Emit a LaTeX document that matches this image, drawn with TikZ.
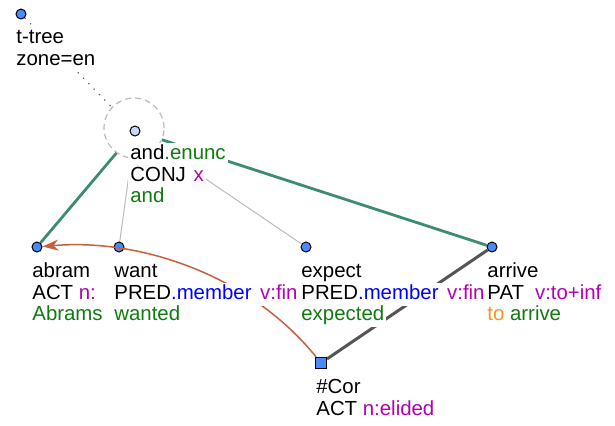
\documentclass[tikz,border=0pt]{standalone}
\usepackage{fontspec}
\setmainfont{Liberation Sans}
\usetikzlibrary{arrows.meta,backgrounds}

\definecolor{dotblue}{HTML}{4A8AFA}
\definecolor{andblue}{HTML}{C8D8FA}
\definecolor{edgegreen}{HTML}{3C8C6E}
\definecolor{edgegrey}{HTML}{BBBBBB}
\definecolor{edgedark}{HTML}{555555}
\definecolor{corarrow}{HTML}{C8603C}
\definecolor{txtgreen}{HTML}{107C10}
\definecolor{txtmag}{HTML}{B400B4}
\definecolor{txtblue}{HTML}{0000FF}
\definecolor{txtorange}{HTML}{FF9020}

% one text line on a white patch
\newsavebox\klbox
\newcommand\kl[1]{\sbox\klbox{#1}%
  \rlap{\kern-1pt\smash{\color{white}\rule[-3.3pt]{\dimexpr\wd\klbox+2pt\relax}{11.3pt}}}%
  \rule[-3.3pt]{0pt}{10.8pt}\usebox\klbox}

\tikzset{
  tnode/.style={circle,draw=black,line width=0.5pt,fill=dotblue,inner sep=0pt,minimum size=5pt},
  anode/.style={tnode,fill=andblue},
  cnode/.style={rectangle,draw=black,line width=0.5pt,fill=dotblue,inner sep=0pt,minimum size=5.5pt},
  tlabel/.style={anchor=north west,align=left,inner sep=0pt,font=\fontsize{10.2}{10.85}\selectfont},
  coord/.style={line width=1.4pt,draw=edgegreen},
  plain/.style={line width=0.5pt,draw=edgegrey},
  cor/.style={line width=1.5pt,draw=edgedark},
  root/.style={line width=0.6pt,draw=edgedark,dash pattern=on 0.6pt off 3.2pt},
  coref/.style={line width=0.75pt,draw=corarrow,-{Stealth[length=8pt,width=5.5pt,inset=2.5pt]}}
}

\begin{document}
\begin{tikzpicture}[x=0.5pt,y=-0.5pt]
  \useasboundingbox (0,0) rectangle (615,425);
  \node [circle,draw=edgegrey,fill=white,dash pattern=on 3pt off 2pt,line width=0.6pt,
    minimum size=30pt,inner sep=0pt] (A1_0z) at (134,128) {};
  \node [tnode] (A0_0) at (21,14) {};
  \node [anode] (A1_0) at (135,131) {};
  \node [tnode] (A2_0) at (37,247) {};
  \node [tnode] (A2_1) at (119,247) {};
  \node [tnode] (A2_2) at (306,247) {};
  \node [tnode] (A2_3) at (492,247) {};
  \node [cnode] (A3_0) at (321,363) {};
  \begin{scope}[on background layer]
    \path (A0_0) edge [root] (A1_0);
    \path (A1_0) edge [coord] (A2_0);
    \path (A1_0) edge [coord] (A2_3);
    \path (A1_0) edge [plain] (A2_1);
    \path (A1_0) edge [plain] (A2_2);
    \path (A2_3) edge [cor] (A3_0);
  \end{scope}
  \draw [coref] (A3_0) .. controls (250,275) and (140,238) .. (A2_0);
  \node [tlabel] (L0_0) at ([xshift=-2.5pt,yshift=-7pt]A0_0)
    {\kl{t-tree}\\\kl{zone=en}};
  \node [tlabel] (L1_0) at ([xshift=-2.5pt,yshift=-6.5pt]A1_0)
    {\kl{and\textcolor{txtgreen}{.enunc}}\\\kl{CONJ\hspace{3.8pt}\textcolor{txtmag}{x}}\\\kl{\textcolor{txtgreen}{and}}};
  \node [tlabel] (L2_0) at ([xshift=-2.5pt,yshift=-7.5pt]A2_0)
    {\kl{abram}\\\kl{ACT \textcolor{txtmag}{n:}}\\\kl{\textcolor{txtgreen}{Abrams}}};
  \node [tlabel] (L2_1) at ([xshift=-2.5pt,yshift=-7.5pt]A2_1)
    {\kl{want}\\\kl{PRED\textcolor{txtblue}{.member}\hspace{4.3pt}\textcolor{txtmag}{v:fin}}\\\kl{\textcolor{txtgreen}{wanted}}};
  \node [tlabel] (L2_2) at ([xshift=-2.5pt,yshift=-7.5pt]A2_2)
    {\kl{expect}\\\kl{PRED\textcolor{txtblue}{.member}\hspace{4.3pt}\textcolor{txtmag}{v:fin}}\\\kl{\textcolor{txtgreen}{expected}}};
  \node [tlabel] (L2_3) at ([xshift=-2.5pt,yshift=-7.5pt]A2_3)
    {\kl{arrive}\\\kl{PAT\hspace{5.5pt}\textcolor{txtmag}{v:to+inf}}\\\kl{\textcolor{txtorange}{to} \textcolor{txtgreen}{arrive}}};
  \node [tlabel] (L3_0) at ([xshift=-2.5pt,yshift=-7.5pt]A3_0)
    {\kl{\#Cor}\\\kl{ACT \textcolor{txtmag}{n:elided}}};
\end{tikzpicture}
\end{document}
